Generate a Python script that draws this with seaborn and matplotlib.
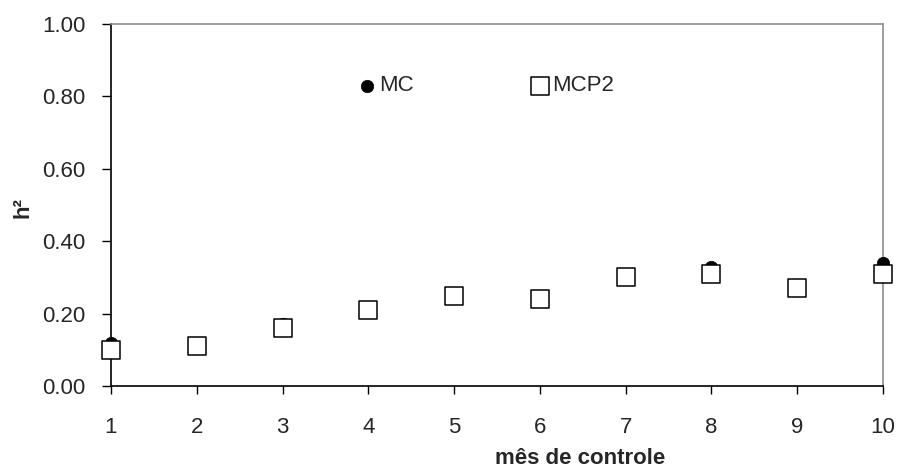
import matplotlib
matplotlib.use("Agg")
import matplotlib.pyplot as plt
import seaborn as sns
import pandas as pd
from matplotlib.ticker import FormatStrFormatter

sns.set_style("white")
plt.rcParams['font.family'] = ['Liberation Sans', 'DejaVu Sans']

months = [1, 2, 3, 4, 5, 6, 7, 8, 9, 10]
mc = [0.12, 0.115, 0.17, 0.21, 0.25, 0.245, 0.30, 0.33, 0.28, 0.34]
mcp2 = [0.10, 0.11, 0.16, 0.21, 0.25, 0.24, 0.30, 0.31, 0.27, 0.31]
yticks = [0.0, 0.2, 0.4, 0.6, 0.8, 1.0]

df = pd.DataFrame({"mes": months, "MC": mc, "MCP2": mcp2})

fs = 16
fig = plt.figure(figsize=(8.99, 4.68), dpi=100)
ax = fig.add_axes([111/899, 1 - 386/468, 772/899, 362/468])

sns.scatterplot(data=df, x="mes", y="MC", marker="o", s=80, color="black",
                edgecolor="black", linewidth=0.5, ax=ax, label="MC", clip_on=False, zorder=3)
sns.scatterplot(data=df, x="mes", y="MCP2", marker="s", s=150, facecolor="white",
                edgecolor="black", linewidth=1.1, ax=ax, label="MCP2", clip_on=False, zorder=4)

ax.set_xlim(1, 10)
ax.set_ylim(0, 1)
ax.set_xticks(months)
ax.set_yticks(yticks)
ax.yaxis.set_major_formatter(FormatStrFormatter("%.2f"))
ax.tick_params(axis="both", which="major", labelsize=fs, direction="out",
               width=1, color="black", left=True, bottom=True)
ax.tick_params(axis="y", pad=12, length=6.5)
ax.tick_params(axis="x", pad=16, length=6)

for s in ["left", "bottom"]:
    ax.spines[s].set_color("black")
    ax.spines[s].set_linewidth(1.2)
for s in ["top", "right"]:
    ax.spines[s].set_color("#8c8c8c")
    ax.spines[s].set_linewidth(1.2)

ax.set_xlabel("")
ax.set_ylabel("")
fig.text(23/899, 1 - 208/468, "h²", fontsize=fs, fontweight="bold",
         rotation=90, ha="center", va="center")
fig.text(580/899, 1 - 458/468, "mês de controle", fontsize=fs, fontweight="bold",
         ha="center", va="center")

leg = ax.legend(ncol=2, loc="center left", bbox_to_anchor=((358 - 111)/772, (386 - 86)/362),
                frameon=False, fontsize=fs, handlelength=0.8, handletextpad=0.15,
                columnspacing=5.3, borderpad=0, borderaxespad=0)

fig.savefig("out.png", dpi=100)
